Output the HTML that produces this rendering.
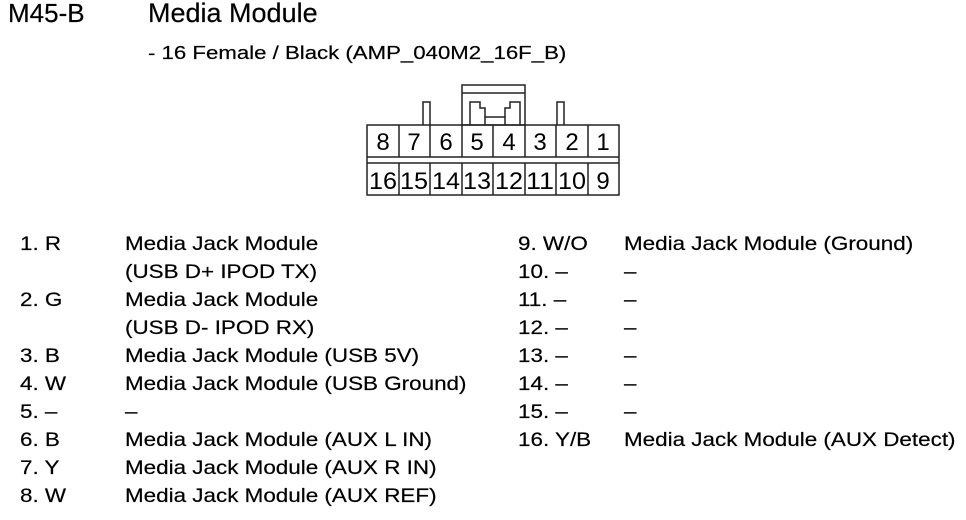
<!DOCTYPE html>
<html><head><style>
body{margin:0;width:966px;height:520px;background:#fff;overflow:hidden;font-family:"Liberation Sans",Arial,sans-serif;color:#000;position:relative}
.t{position:absolute;white-space:nowrap;font-size:19.5px;line-height:20px;transform:scaleX(1.15);transform-origin:0 50%;-webkit-text-stroke:0.2px #000}
</style></head><body>
<div class="t" style="left:8px;top:0px;font-size:26px;line-height:26px;transform:none">M45-B</div>
<div class="t" style="left:148px;top:0px;font-size:27px;line-height:26px;transform:none">Media Module</div>
<div class="t" style="left:148px;top:43px;font-size:18.5px;transform:scaleX(1.2)">- 16 Female / Black (AMP_040M2_16F_B)</div>
<svg style="position:absolute;left:0;top:0" width="966" height="210">
<g fill="none" stroke="#222" stroke-width="1.5">
<rect x="367" y="125" width="252" height="70"/>
<line x1="367" y1="157" x2="619" y2="157"/><line x1="367" y1="163" x2="619" y2="163"/>
<g>
<line x1="399" y1="125" x2="399" y2="157"/><line x1="430" y1="125" x2="430" y2="157"/><line x1="462" y1="125" x2="462" y2="157"/><line x1="493" y1="125" x2="493" y2="157"/><line x1="525" y1="125" x2="525" y2="157"/><line x1="556" y1="125" x2="556" y2="157"/><line x1="588" y1="125" x2="588" y2="157"/>
<line x1="399" y1="163" x2="399" y2="195"/><line x1="430" y1="163" x2="430" y2="195"/><line x1="462" y1="163" x2="462" y2="195"/><line x1="493" y1="163" x2="493" y2="195"/><line x1="525" y1="163" x2="525" y2="195"/><line x1="556" y1="163" x2="556" y2="195"/><line x1="588" y1="163" x2="588" y2="195"/>
</g>
<polyline points="423,125 423,102 430,102 430,125"/>
<polyline points="557,125 557,102 564,102 564,125"/>
<rect x="462" y="85" width="63" height="40"/>
<line x1="462" y1="93" x2="525" y2="93"/>
<polyline points="470,125 470,102 480,102 480,108 485,108 485,117 505,117 505,108 510,108 510,102 520,102 520,125"/>
<polyline points="485,117 485,125"/><polyline points="505,117 505,125"/>
</g>
<g font-family="Liberation Sans,Arial,sans-serif" font-size="24" fill="#000" text-anchor="middle">
<text x="383" y="150">8</text><text x="414" y="150">7</text><text x="446" y="150">6</text><text x="477" y="150">5</text><text x="509" y="150">4</text><text x="540" y="150">3</text><text x="572" y="150">2</text><text x="603" y="150">1</text>
<text x="383" y="189" textLength="28" lengthAdjust="spacingAndGlyphs">16</text><text x="414" y="189" textLength="28" lengthAdjust="spacingAndGlyphs">15</text><text x="446" y="189" textLength="28" lengthAdjust="spacingAndGlyphs">14</text><text x="477" y="189" textLength="28" lengthAdjust="spacingAndGlyphs">13</text><text x="509" y="189" textLength="28" lengthAdjust="spacingAndGlyphs">12</text><text x="540" y="189" textLength="28" lengthAdjust="spacingAndGlyphs">11</text><text x="572" y="189" textLength="28" lengthAdjust="spacingAndGlyphs">10</text><text x="603" y="189">9</text>
</g>
</svg>
<div class="t" style="left:20px;top:234px">1. R</div><div class="t" style="left:125px;top:234px">Media Jack Module</div>
<div class="t" style="left:125px;top:262px">(USB D+ IPOD TX)</div>
<div class="t" style="left:20px;top:290px">2. G</div><div class="t" style="left:125px;top:290px">Media Jack Module</div>
<div class="t" style="left:125px;top:318px">(USB D- IPOD RX)</div>
<div class="t" style="left:20px;top:346px">3. B</div><div class="t" style="left:125px;top:346px">Media Jack Module (USB 5V)</div>
<div class="t" style="left:20px;top:374px">4. W</div><div class="t" style="left:125px;top:374px">Media Jack Module (USB Ground)</div>
<div class="t" style="left:20px;top:402px">5. –</div><div class="t" style="left:125px;top:402px">–</div>
<div class="t" style="left:20px;top:430px">6. B</div><div class="t" style="left:125px;top:430px">Media Jack Module (AUX L IN)</div>
<div class="t" style="left:20px;top:458px">7. Y</div><div class="t" style="left:125px;top:458px">Media Jack Module (AUX R IN)</div>
<div class="t" style="left:20px;top:486px">8. W</div><div class="t" style="left:125px;top:486px">Media Jack Module (AUX REF)</div>
<div class="t" style="left:518px;top:234px">9. W/O</div><div class="t" style="left:624px;top:234px">Media Jack Module (Ground)</div>
<div class="t" style="left:518px;top:262px">10. –</div><div class="t" style="left:624px;top:262px">–</div>
<div class="t" style="left:518px;top:290px">11. –</div><div class="t" style="left:624px;top:290px">–</div>
<div class="t" style="left:518px;top:318px">12. –</div><div class="t" style="left:624px;top:318px">–</div>
<div class="t" style="left:518px;top:346px">13. –</div><div class="t" style="left:624px;top:346px">–</div>
<div class="t" style="left:518px;top:374px">14. –</div><div class="t" style="left:624px;top:374px">–</div>
<div class="t" style="left:518px;top:402px">15. –</div><div class="t" style="left:624px;top:402px">–</div>
<div class="t" style="left:518px;top:430px">16. Y/B</div><div class="t" style="left:624px;top:430px">Media Jack Module (AUX Detect)</div>
</body></html>
